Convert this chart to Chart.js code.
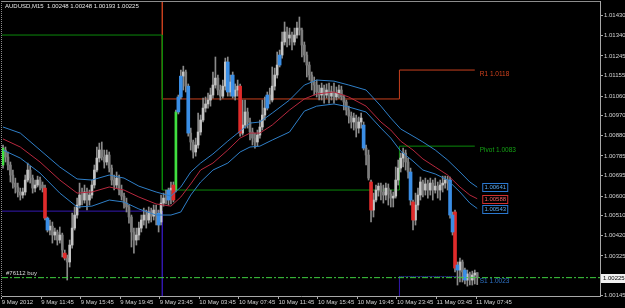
<!DOCTYPE html>
<html>
<head>
<meta charset="utf-8">
<script src="https://cdn.jsdelivr.net/npm/chart.js@4.4.1/dist/chart.umd.min.js"></script>
<style>
html,body{margin:0;padding:0;background:#000;}
canvas{display:block;}
</style>
</head>
<body>
<canvas id="chart" width="625" height="308"></canvas>
<script>
// AUDUSD M15, one candle per array slot (bar 0 = 9 May 07:45)
var symbol = 'AUDUSD,M15';
var opens = [
1.00743,1.00812,1.00780,1.00743,1.00697,1.00660,1.00642,1.00619,1.00605,1.00619,
1.00674,1.00720,1.00683,1.00637,1.00651,1.00674,1.00651,1.00637,1.00499,1.00444,
1.00462,1.00421,1.00435,1.00398,1.00421,1.00338,1.00315,1.00297,1.00375,1.00453,
1.00513,1.00559,1.00605,1.00582,1.00619,1.00582,1.00605,1.00651,1.00720,1.00775,
1.00812,1.00780,1.00757,1.00789,1.00729,1.00674,1.00651,1.00683,1.00628,1.00600,
1.00568,1.00550,1.00504,1.00435,1.00398,1.00421,1.00453,1.00490,1.00513,1.00490,
1.00527,1.00508,1.00536,1.00522,1.00481,1.00568,1.00591,1.00582,1.00628,1.00651,
1.00628,1.00987,1.01056,1.01152,1.01171,1.01106,1.00890,1.00849,1.00803,1.00835,
1.00895,1.00950,1.01005,1.01024,1.01042,1.01065,1.01111,1.01143,1.01088,1.01060,
1.01106,1.01217,1.01079,1.01157,1.01060,1.01088,1.01106,1.00890,1.00927,1.00987,
1.00941,1.00895,1.00867,1.00849,1.00881,1.00918,1.00973,1.01005,1.01065,1.01042,
1.01106,1.01157,1.01203,1.01249,1.01309,1.01355,1.01327,1.01341,1.01309,1.01341,
1.01373,1.01364,1.01295,1.01249,1.01203,1.01157,1.01125,1.01111,1.01079,1.01065,
1.01097,1.01065,1.01088,1.01060,1.01079,1.01056,1.01074,1.01088,1.01056,1.01033,
1.00996,1.00968,1.00941,1.00959,1.00913,1.00941,1.00927,1.00821,1.00789,1.00665,
1.00536,1.00582,1.00628,1.00646,1.00619,1.00605,1.00637,1.00610,1.00591,1.00600,
1.00674,1.00729,1.00775,1.00798,1.00757,1.00711,1.00573,1.00490,1.00559,1.00605,
1.00665,1.00628,1.00656,1.00628,1.00660,1.00628,1.00646,1.00628,1.00651,1.00660,
1.00674,1.00674,1.00513,1.00527,1.00283,1.00260,1.00297,1.00260,1.00214,1.00242,
1.00214,1.00237,1.00248];
var highs = [
1.00835,1.00826,1.00803,1.00757,1.00720,1.00683,1.00660,1.00637,1.00637,1.00697,
1.00752,1.00738,1.00697,1.00674,1.00692,1.00688,1.00665,1.00651,1.00504,1.00490,
1.00481,1.00453,1.00444,1.00458,1.00430,1.00352,1.00329,1.00398,1.00522,1.00550,
1.00591,1.00660,1.00637,1.00651,1.00637,1.00628,1.00674,1.00743,1.00826,1.00844,
1.00849,1.00812,1.00812,1.00803,1.00743,1.00697,1.00711,1.00697,1.00651,1.00614,
1.00591,1.00559,1.00513,1.00453,1.00453,1.00481,1.00513,1.00545,1.00536,1.00550,
1.00545,1.00559,1.00559,1.00536,1.00605,1.00614,1.00628,1.00637,1.00665,1.00665,
1.00996,1.01065,1.01180,1.01198,1.01180,1.01116,1.00913,1.00858,1.00867,1.00982,
1.00973,1.01051,1.01056,1.01074,1.01097,1.01171,1.01240,1.01157,1.01111,1.01134,
1.01235,1.01240,1.01157,1.01171,1.01116,1.01134,1.01116,1.01042,1.01042,1.01005,
1.00959,1.00913,1.00890,1.00904,1.00950,1.01042,1.01056,1.01079,1.01097,1.01194,
1.01189,1.01263,1.01272,1.01355,1.01401,1.01378,1.01373,1.01355,1.01373,1.01401,
1.01424,1.01373,1.01309,1.01263,1.01217,1.01171,1.01148,1.01134,1.01111,1.01120,
1.01111,1.01116,1.01120,1.01106,1.01120,1.01102,1.01111,1.01106,1.01065,1.01042,
1.01014,1.00987,1.00982,1.00973,1.00964,1.00982,1.00941,1.00835,1.00812,1.00674,
1.00614,1.00651,1.00660,1.00660,1.00651,1.00660,1.00656,1.00628,1.00619,1.00734,
1.00766,1.00798,1.00821,1.00812,1.00775,1.00729,1.00582,1.00614,1.00637,1.00688,
1.00674,1.00683,1.00674,1.00683,1.00674,1.00683,1.00665,1.00674,1.00692,1.00692,
1.00692,1.00688,1.00527,1.00536,1.00297,1.00315,1.00306,1.00269,1.00260,1.00251,
1.00255,1.00260,1.00248];
var lows = [
1.00729,1.00757,1.00720,1.00665,1.00637,1.00614,1.00596,1.00582,1.00591,1.00605,
1.00665,1.00660,1.00614,1.00619,1.00642,1.00628,1.00619,1.00490,1.00435,1.00421,
1.00384,1.00398,1.00375,1.00384,1.00320,1.00306,1.00214,1.00274,1.00361,1.00444,
1.00499,1.00545,1.00559,1.00568,1.00536,1.00559,1.00591,1.00637,1.00711,1.00757,
1.00766,1.00729,1.00743,1.00711,1.00651,1.00628,1.00637,1.00605,1.00582,1.00545,
1.00527,1.00476,1.00366,1.00338,1.00375,1.00398,1.00435,1.00467,1.00453,1.00476,
1.00481,1.00490,1.00467,1.00435,1.00467,1.00554,1.00564,1.00559,1.00564,1.00573,
1.00619,1.00978,1.01047,1.01088,1.01079,1.00876,1.00812,1.00775,1.00784,1.00821,
1.00881,1.00941,1.00987,1.01005,1.01014,1.01051,1.01097,1.01065,1.01042,1.01051,
1.01088,1.01060,1.01060,1.01051,1.01042,1.01060,1.00876,1.00881,1.00913,1.00913,
1.00858,1.00835,1.00821,1.00830,1.00867,1.00904,1.00950,1.00996,1.01024,1.01033,
1.01088,1.01143,1.01194,1.01235,1.01295,1.01286,1.01295,1.01272,1.01295,1.01327,
1.01341,1.01240,1.01217,1.01148,1.01134,1.01088,1.01065,1.01056,1.01042,1.01042,
1.01028,1.01051,1.01028,1.01042,1.01028,1.01042,1.01051,1.01042,1.00996,1.00973,
1.00936,1.00913,1.00904,1.00872,1.00890,1.00913,1.00812,1.00743,1.00674,1.00481,
1.00504,1.00573,1.00600,1.00582,1.00568,1.00582,1.00559,1.00550,1.00550,1.00591,
1.00651,1.00711,1.00734,1.00720,1.00683,1.00559,1.00444,1.00467,1.00536,1.00582,
1.00596,1.00605,1.00591,1.00605,1.00582,1.00614,1.00591,1.00582,1.00619,1.00637,
1.00628,1.00499,1.00421,1.00251,1.00191,1.00205,1.00205,1.00196,1.00186,1.00191,
1.00191,1.00196,1.00193];
var closes = [
1.00821,1.00780,1.00743,1.00697,1.00660,1.00642,1.00619,1.00605,1.00619,1.00674,
1.00720,1.00683,1.00637,1.00651,1.00674,1.00651,1.00637,1.00499,1.00444,1.00462,
1.00421,1.00435,1.00398,1.00421,1.00352,1.00315,1.00297,1.00375,1.00453,1.00513,
1.00559,1.00605,1.00582,1.00619,1.00582,1.00605,1.00651,1.00720,1.00775,1.00812,
1.00780,1.00757,1.00789,1.00729,1.00674,1.00651,1.00683,1.00628,1.00600,1.00568,
1.00550,1.00504,1.00435,1.00398,1.00421,1.00453,1.00490,1.00513,1.00490,1.00527,
1.00508,1.00536,1.00513,1.00467,1.00568,1.00591,1.00582,1.00628,1.00637,1.00582,
1.00987,1.01056,1.01152,1.01171,1.01106,1.00890,1.00849,1.00803,1.00835,1.00895,
1.00950,1.01005,1.01024,1.01042,1.01065,1.01111,1.01143,1.01088,1.01060,1.01106,
1.01217,1.01079,1.01125,1.01060,1.01088,1.01106,1.00890,1.00927,1.00987,1.00941,
1.00895,1.00867,1.00849,1.00881,1.00918,1.00973,1.01005,1.01065,1.01042,1.01106,
1.01157,1.01203,1.01249,1.01309,1.01355,1.01327,1.01341,1.01309,1.01341,1.01373,
1.01364,1.01295,1.01249,1.01203,1.01157,1.01125,1.01111,1.01079,1.01065,1.01097,
1.01065,1.01088,1.01060,1.01079,1.01056,1.01074,1.01088,1.01056,1.01033,1.00996,
1.00968,1.00941,1.00959,1.00913,1.00941,1.00959,1.00821,1.00789,1.00683,1.00536,
1.00582,1.00628,1.00646,1.00619,1.00605,1.00637,1.00610,1.00591,1.00600,1.00674,
1.00729,1.00775,1.00798,1.00757,1.00711,1.00582,1.00490,1.00559,1.00605,1.00665,
1.00628,1.00656,1.00628,1.00660,1.00628,1.00646,1.00628,1.00651,1.00660,1.00674,
1.00665,1.00513,1.00435,1.00269,1.00260,1.00297,1.00251,1.00214,1.00242,1.00214,
1.00237,1.00246,1.00225];

// candles the indicator paints
var blueBars = [18, 63, 67, 71, 72, 75, 91, 93, 107, 112, 146, 165, 181, 182, 184, 187];
var redBars = [17, 25, 69, 96, 149, 166, 183];
var greenBars = [0, 70];

// moving average band (high / close / low), sampled at these bars
var maBars = [0,7,15,23,30,36,43,49,55,62,68,72,76,80,85,91,96,100,104,109,116,122,127,134,140,147,153,157,161,166,170,175,180,185,189,192];
var maUpper = [1.00918,1.00890,1.00812,1.00734,1.00679,1.00674,1.00697,1.00683,1.00646,1.00619,1.00600,1.00642,1.00711,1.00752,1.00794,1.00853,1.00899,1.00936,1.00941,1.00982,1.01042,1.01111,1.01134,1.01129,1.01111,1.01088,1.01014,1.00959,1.00909,1.00876,1.00849,1.00812,1.00766,1.00711,1.00665,1.00641];
var maMid = [1.00863,1.00826,1.00757,1.00674,1.00614,1.00619,1.00642,1.00628,1.00596,1.00564,1.00554,1.00596,1.00656,1.00720,1.00752,1.00812,1.00867,1.00890,1.00890,1.00927,1.00996,1.01047,1.01070,1.01079,1.01056,1.01014,1.00941,1.00904,1.00853,1.00812,1.00771,1.00734,1.00697,1.00642,1.00605,1.00588];
var maLower = [1.00812,1.00775,1.00706,1.00614,1.00550,1.00554,1.00582,1.00573,1.00541,1.00513,1.00513,1.00527,1.00605,1.00665,1.00720,1.00752,1.00803,1.00826,1.00830,1.00858,1.00895,1.00991,1.01014,1.01024,1.01010,1.00987,1.00913,1.00867,1.00807,1.00761,1.00720,1.00702,1.00674,1.00619,1.00568,1.00543];

// daily pivots: day starts (bar), levels per day
var dayStarts = [-0.4, 64.5, 160.5];
var dayEnd = 191;
var pivotLevels = [1.01341, 1.00628, 1.0083];
var r1Levels = [1.0165, 1.01047, 1.0118];
var s1Levels = [1.00531, 0.9995, 1.0023];

var orderPrice = 1.00225;
var orderLabel = '#76112 buy';

var yTicks = [1.01430,1.01340,1.01245,1.01155,1.01060,1.00970,1.00880,1.00785,1.00695,1.00600,1.00510,1.00420,1.00325,1.00145];
var xTickBars = [-0.5,15.5,31.5,47.5,63.5,79.5,95.5,111.5,127.5,143.5,159.5,175.5,191.5];
var xTickLabels = ['9 May 2012','9 May 11:45','9 May 15:45','9 May 19:45','9 May 23:45','10 May 03:45','10 May 07:45','10 May 11:45','10 May 15:45','10 May 19:45','10 May 23:45','11 May 03:45','11 May 07:45'];

var xMin = -0.405, xMax = 241.7;
var yMin = 1.001406, yMax = 1.014976;

var axisColor = '#a8a8a8';
var textColor = '#d4d4d4';
var fontFamily = '"Liberation Sans", Arial, sans-serif';

function stepLine(levels) {
    var pts = [];
    for (var i = 0; i < levels.length; i++) {
        var end = i + 1 < dayStarts.length ? dayStarts[i + 1] : dayEnd;
        pts.push({x: dayStarts[i], y: levels[i]});
        pts.push({x: end, y: levels[i]});
    }
    return pts;
}
function pickBodies(list, inList) {
    var out = [];
    for (var i = 0; i < opens.length; i++) {
        if ((list.indexOf(i) >= 0) === inList) out.push({x: i, y: [opens[i], closes[i]]});
    }
    return out;
}
var highlighted = blueBars.concat(redBars, greenBars);
var wickData = opens.map(function (o, i) { return {x: i, y: [lows[i], highs[i]]}; });
var maLine = function (vals) { return maBars.map(function (b, i) { return {x: b, y: vals[i]}; }); };
// last day's S1 is dotted
var lastDayDots = function (c) {
    return c.p0.parsed.x === dayStarts[dayStarts.length - 1] && c.p1.parsed.x === dayEnd ? [1, 1] : undefined;
};

var overlay = {
    id: 'overlay',
    beforeDraw: function (chart) {
        var ctx = chart.ctx;
        ctx.save();
        ctx.fillStyle = '#000';
        ctx.fillRect(0, 0, chart.width, chart.height);
        ctx.restore();
    },
    afterDraw: function (chart) {
        var ctx = chart.ctx, a = chart.chartArea, xs = chart.scales.x, ys = chart.scales.y;
        var last = opens.length - 1;
        ctx.save();
        ctx.strokeStyle = '#8c8c8c';
        ctx.lineWidth = 1;
        ctx.beginPath(); ctx.moveTo(a.left, a.top + 0.5); ctx.lineTo(a.right, a.top + 0.5); ctx.stroke();
        ctx.setLineDash([1, 1]);
        ctx.beginPath(); ctx.moveTo(a.left - 0.5, a.top); ctx.lineTo(a.left - 0.5, a.bottom); ctx.stroke();
        ctx.setLineDash([]);

        // header
        ctx.font = '6px ' + fontFamily;
        ctx.fillStyle = '#e8e8e8';
        ctx.textBaseline = 'top';
        ctx.textAlign = 'left';
        ctx.fillText(symbol + '  ' + [opens[last], highs[last], lows[last], closes[last]].map(function (v) { return v.toFixed(5); }).join(' '), 5, 3);

        // pivot labels
        ctx.font = '6.5px ' + fontFamily;
        var lx = xs.getPixelForValue(dayEnd) + 5;
        var n = pivotLevels.length - 1;
        [['R1 ', r1Levels[n], '#d2421e'], ['Pivot ', pivotLevels[n], '#14a014'], ['S1 ', s1Levels[n], '#2f74c8']].forEach(function (p) {
            ctx.fillStyle = p[2];
            ctx.fillText(p[0] + p[1].toFixed(4), lx, ys.getPixelForValue(p[1]) + 1);
        });

        // order label
        ctx.fillStyle = '#dcdcdc';
        ctx.font = '6px ' + fontFamily;
        ctx.textBaseline = 'bottom';
        ctx.fillText(orderLabel, a.left + 4, ys.getPixelForValue(orderPrice) - 1);

        // MA value boxes
        var bx = xs.getPixelForValue(maBars[maBars.length - 1]) + 5;
        ctx.textBaseline = 'middle';
        ctx.textAlign = 'center';
        [[maUpper, '#2a78d0', '#58a8f0'], [maMid, '#d03030', '#f06060'], [maLower, '#2a78d0', '#58a8f0']].forEach(function (m) {
            var v = m[0][m[0].length - 1];
            var py = Math.round(ys.getPixelForValue(v));
            ctx.fillStyle = '#000';
            ctx.fillRect(bx, py - 4, 26, 9);
            ctx.strokeStyle = m[1];
            ctx.strokeRect(bx + 0.5, py - 3.5, 25, 8);
            ctx.fillStyle = m[2];
            ctx.fillText(v.toFixed(5), bx + 13, py + 0.5);
        });

        // bid on the price axis
        var by = Math.round(ys.getPixelForValue(closes[last]));
        ctx.fillStyle = '#f0f0f0';
        ctx.fillRect(a.right + 1, by - 4, 24, 9);
        ctx.fillStyle = '#000';
        ctx.textAlign = 'left';
        ctx.fillText(closes[last].toFixed(5), a.right + 3, by + 0.5);
        ctx.restore();
    }
};

Chart.defaults.font.family = fontFamily;
Chart.defaults.font.size = 6;

new Chart(document.getElementById('chart').getContext('2d'), {
    type: 'bar',
    data: {
        datasets: [
            {type: 'line', data: stepLine(pivotLevels), borderColor: '#0b8a0b', borderWidth: 1, pointRadius: 0, order: 9},
            {type: 'line', data: stepLine(r1Levels), borderColor: '#c8401e', borderWidth: 1, pointRadius: 0, order: 9},
            {type: 'line', data: stepLine(s1Levels), borderColor: '#3318b0', borderWidth: 1, pointRadius: 0, order: 9,
                segment: {borderDash: lastDayDots, borderColor: function (c) { return lastDayDots(c) ? '#3a4ad8' : undefined; }}},
            {data: wickData, backgroundColor: '#8a8a8a', barThickness: 1, grouped: false, order: 6},
            {data: pickBodies(highlighted, false), grouped: false, barThickness: 2, order: 5,
                backgroundColor: function (c) { var d = c.raw; return d && d.y[1] >= d.y[0] ? '#c4c4c4' : '#7c7c7c'; }},
            {data: pickBodies(blueBars, true), backgroundColor: '#3a8ee6', barThickness: 3, grouped: false, order: 4},
            {data: pickBodies(redBars, true), backgroundColor: '#e02b2b', barThickness: 3, grouped: false, order: 4},
            {data: pickBodies(greenBars, true), backgroundColor: '#40e040', barThickness: 2, grouped: false, order: 4},
            {type: 'line', data: maLine(maUpper), borderColor: '#2f7fc8', borderWidth: 1, pointRadius: 0, order: 2},
            {type: 'line', data: maLine(maMid), borderColor: '#b8283e', borderWidth: 1, pointRadius: 0, order: 2},
            {type: 'line', data: maLine(maLower), borderColor: '#2f7fc8', borderWidth: 1, pointRadius: 0, order: 2},
            {type: 'line', data: [{x: xMin, y: orderPrice}, {x: xMax, y: orderPrice}], borderColor: '#3fcf3f', borderWidth: 1, borderDash: [6, 2, 2, 2], pointRadius: 0, order: 1}
        ]
    },
    options: {
        responsive: false,
        animation: false,
        devicePixelRatio: 1,
        layout: {padding: {left: 2, top: 1, right: 0, bottom: 0}},
        plugins: {legend: {display: false}, tooltip: {enabled: false}},
        scales: {
            x: {
                type: 'linear', min: xMin, max: xMax, offset: false, position: 'bottom',
                afterBuildTicks: function (s) { s.ticks = xTickBars.map(function (v) { return {value: v}; }); },
                afterFit: function (s) { s.height = 12; s.paddingLeft = 0; s.paddingRight = 0; },
                ticks: {autoSkip: false, maxRotation: 0, minRotation: 0, align: 'start', padding: 0, color: textColor,
                    callback: function (v, i) { return xTickLabels[i]; }},
                grid: {drawOnChartArea: false, drawTicks: true, tickLength: 3, color: axisColor, offset: false},
                border: {color: axisColor}
            },
            y: {
                type: 'linear', min: yMin, max: yMax, position: 'right',
                afterBuildTicks: function (s) { s.ticks = yTicks.map(function (v) { return {value: v}; }); },
                afterFit: function (s) { s.width = 25; s.paddingTop = 0; s.paddingBottom = 0; },
                ticks: {autoSkip: false, padding: 1, color: textColor,
                    callback: function (v) { return v.toFixed(5); }},
                grid: {drawOnChartArea: false, drawTicks: true, tickLength: 3, color: axisColor},
                border: {color: axisColor}
            }
        }
    },
    plugins: [overlay]
});
</script>
</body>
</html>
